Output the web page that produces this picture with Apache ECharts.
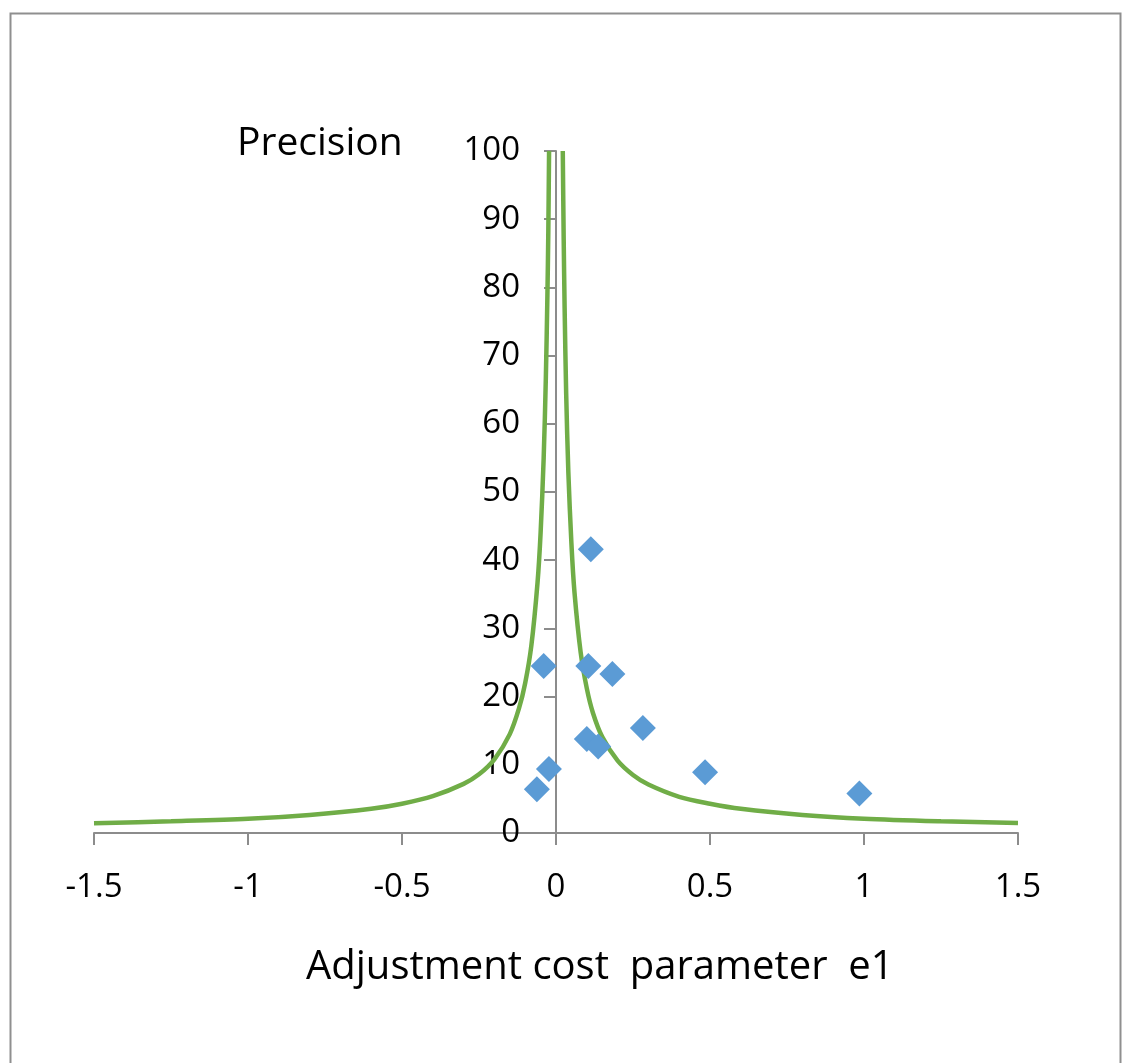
<!DOCTYPE html>
<html>
<head>
<meta charset="utf-8">
<script src="https://cdn.jsdelivr.net/npm/echarts@6/dist/echarts.min.js"></script>
<style>
html,body{margin:0;padding:0;background:#fff;}
#chart{width:1122px;height:1063px;}
</style>
</head>
<body>
<div id="chart"></div>
<script>
// Scatter observations (e1, precision)
const pointX = [-0.062, -0.040, -0.023, 0.113, 0.105, 0.183, 0.100, 0.137, 0.282, 0.484, 0.985];
const pointY = [6.4, 24.5, 9.4, 41.6, 24.5, 23.3, 13.8, 12.7, 15.4, 8.9, 5.8];

// Fitted curve, left branch
const leftX = [-1.5, -1.25, -1.0, -0.8, -0.6, -0.5, -0.4, -0.3, -0.25, -0.2, -0.15, -0.12, -0.1, -0.08, -0.06, -0.05, -0.04, -0.033, -0.028, -0.025, -0.0225];
const leftY = [1.43, 1.72, 2.08, 2.65, 3.55, 4.3, 5.4, 7.2, 8.6, 10.8, 14.5, 18.3, 22, 27.5, 36.7, 44, 55, 66.7, 78.6, 88, 100];
// Fitted curve, right branch
const rightX = [0.022, 0.025, 0.028, 0.033, 0.04, 0.05, 0.06, 0.08, 0.1, 0.12, 0.15, 0.2, 0.25, 0.3, 0.4, 0.5, 0.6, 0.8, 1.0, 1.25, 1.5];
const rightY = [100, 87, 77, 64.5, 53, 42.5, 35.3, 26.5, 21.2, 17.6, 14.1, 10.6, 8.5, 7.1, 5.3, 4.3, 3.55, 2.65, 2.1, 1.72, 1.45];

const xTicks = [-1.5, -1, -0.5, 0, 0.5, 1, 1.5];
const yTicks = [0, 10, 20, 30, 40, 50, 60, 70, 80, 90, 100];

const zip = (a, b) => a.map((v, i) => [v, b[i]]);
const FONT = 'Open Sans';
const AXIS_COLOR = '#8c8c8c';

const chart = echarts.init(document.getElementById('chart'), null, {renderer: 'canvas'});
chart.setOption({
  animation: false,
  backgroundColor: '#fff',
  grid: {left: 94, right: 104, top: 151, bottom: 230, containLabel: false},
  xAxis: {
    type: 'value',
    min: xTicks[0], max: xTicks[xTicks.length - 1], interval: 0.5,
    splitLine: {show: false},
    axisLine: {onZero: false, lineStyle: {color: AXIS_COLOR, width: 2}},
    axisTick: {show: true, inside: false, length: 12, lineStyle: {color: AXIS_COLOR, width: 2}},
    axisLabel: {margin: 38, color: '#000', fontFamily: FONT, fontSize: 33,
      formatter: v => String(v)}
  },
  yAxis: {
    type: 'value',
    min: yTicks[0], max: yTicks[yTicks.length - 1], interval: 10,
    offset: -462,
    splitLine: {show: false},
    axisLine: {onZero: false, lineStyle: {color: AXIS_COLOR, width: 2}},
    axisTick: {show: true, inside: false, length: 12, lineStyle: {color: AXIS_COLOR, width: 2}},
    axisLabel: {margin: 36, color: '#000', fontFamily: FONT, fontSize: 33}
  },
  graphic: [
    {type: 'rect', left: 8, top: 11, shape: {x: 0, y: 0, width: 1110, height: 1070},
      style: {fill: 'none', stroke: '#8f8f8f', lineWidth: 2}, silent: true, z: -10},
    {type: 'text', left: 237, top: 124,
      style: {text: 'Precision', fill: '#000', font: '39px "Open Sans"'}},
    {type: 'text', left: 306, top: 948,
      style: {text: 'Adjustment cost  parameter  e1', fill: '#000', font: '40px "Open Sans"'}}
  ],
  series: [
    {type: 'line', data: zip(leftX, leftY), showSymbol: false, smooth: 0.3,
      lineStyle: {color: '#70AD47', width: 4.5}, itemStyle: {color: '#70AD47'}, z: 2},
    {type: 'line', data: zip(rightX, rightY), showSymbol: false, smooth: 0.3,
      lineStyle: {color: '#70AD47', width: 4.5}, itemStyle: {color: '#70AD47'}, z: 2},
    {type: 'scatter', data: zip(pointX, pointY), symbol: 'diamond', symbolSize: 26,
      itemStyle: {color: '#5B9BD5', opacity: 1}, z: 3}
  ]
});
</script>
</body>
</html>
